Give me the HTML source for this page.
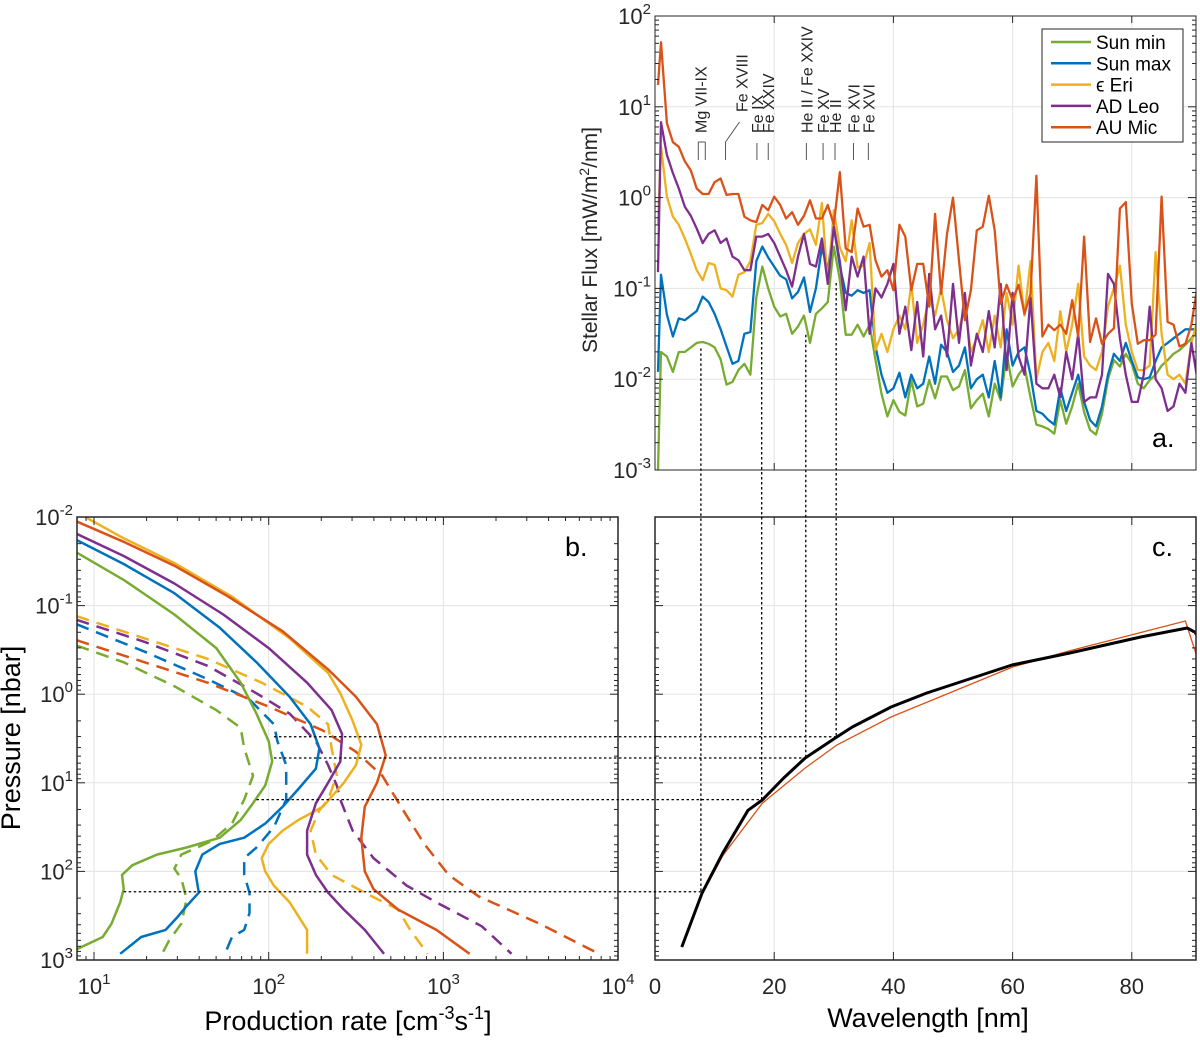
<!DOCTYPE html>
<html><head><meta charset="utf-8"><style>
html,body{margin:0;padding:0;background:#fff;}
svg{display:block;font-family:"Liberation Sans",sans-serif;}
</style></head><body>
<svg id="fig" width="1200" height="1040" viewBox="0 0 1200 1040" xmlns="http://www.w3.org/2000/svg">
<defs>
<clipPath id="clipA"><rect x="655" y="16" width="541" height="454"/></clipPath>
<clipPath id="clipB"><rect x="77" y="517" width="541" height="443"/></clipPath>
<clipPath id="clipC"><rect x="655" y="517" width="541" height="443"/></clipPath>
</defs>
<g id="gridLayer"></g>
<g id="dataLayer"></g>
<g id="axisLayer"></g>
<g id="textLayer"></g>
</svg>
<script>
// ---------- Panel a: stellar spectra (log10 flux, mW/m2/nm) ----------
const wavelengths = [0.5,1,2,3,4,5,6,7,8,9,10,11,12,13,14,15,16,17,18,19,20,21,22,23,24,25,26,27,28,29,30,31,32,33,34,35,36,37,38,39,40,41,42,43,44,45,46,47,48,49,50,51,52,53,54,55,56,57,58,59,60,61,62,63,64,65,66,67,68,69,70,71,72,73,74,75,76,77,78,79,80,81,82,83,84,85,86,87,88,89,90,91];
const sunMinLogFlux = [-3.0,-1.70,-1.75,-1.92,-1.70,-1.70,-1.65,-1.60,-1.59,-1.61,-1.65,-1.78,-2.06,-2.03,-1.90,-1.83,-1.95,-1.10,-0.76,-1.00,-1.20,-1.31,-1.28,-1.50,-1.42,-1.30,-1.60,-1.28,-1.22,-1.15,-0.54,-0.90,-1.51,-1.51,-1.40,-1.53,-1.40,-1.79,-2.16,-2.41,-2.23,-2.36,-2.40,-2.01,-2.30,-2.27,-2.01,-2.21,-1.97,-1.97,-2.12,-2.08,-1.90,-2.32,-2.23,-2.16,-2.41,-2.05,-2.23,-1.72,-2.08,-1.95,-1.86,-2.20,-2.50,-2.52,-2.55,-2.60,-2.23,-2.49,-2.30,-2.05,-2.36,-2.56,-2.61,-2.38,-2.00,-1.79,-1.86,-1.72,-1.83,-2.05,-2.10,-2.01,-1.95,-1.85,-1.79,-1.72,-1.68,-1.62,-1.55,-1.46];
const sunMaxLogFlux = [-1.92,-0.85,-1.29,-1.53,-1.33,-1.35,-1.30,-1.25,-1.09,-1.15,-1.28,-1.45,-1.64,-1.83,-1.80,-1.50,-1.48,-0.70,-0.54,-0.66,-0.76,-0.86,-0.90,-1.11,-1.04,-0.88,-1.26,-1.00,-0.55,-0.80,-0.32,-0.75,-1.05,-1.08,-1.02,-1.05,-1.02,-1.64,-1.95,-2.15,-2.10,-1.93,-2.20,-1.95,-2.10,-2.05,-1.75,-2.05,-1.62,-1.70,-1.92,-1.85,-1.65,-2.10,-2.00,-1.95,-2.20,-1.80,-2.20,-1.45,-1.85,-1.70,-1.65,-1.95,-2.35,-2.38,-2.45,-2.50,-2.10,-2.35,-2.15,-1.95,-2.25,-2.45,-2.52,-2.30,-1.95,-1.72,-1.80,-1.60,-1.80,-1.98,-2.00,-1.98,-1.80,-1.65,-1.60,-1.55,-1.50,-1.45,-1.45,-1.45];
const epsEriLogFlux = [-0.30,0.56,0.01,-0.21,-0.30,-0.45,-0.62,-0.80,-0.91,-0.72,-0.74,-1.00,-1.02,-1.09,-0.85,-0.82,-0.70,-0.30,-0.28,-0.18,-0.26,-0.40,-0.52,-0.72,-0.50,-0.40,-0.35,-0.52,-0.06,-0.95,-0.14,-0.55,-0.70,-0.25,-0.77,-0.75,-0.50,-1.68,-1.50,-1.70,-1.45,-1.30,-1.45,-0.95,-1.60,-1.40,-1.10,-1.30,-1.00,-1.35,-1.55,-1.45,-1.20,-1.70,-1.55,-1.35,-1.70,-1.30,-1.65,-1.05,-1.40,-0.75,-1.30,-0.70,-2.00,-1.70,-1.60,-1.80,-1.25,-1.70,-1.40,-0.95,-1.75,-1.85,-1.90,-1.70,-1.20,-1.00,-0.75,-1.40,-1.70,-1.90,-1.90,-1.85,-0.60,-1.50,-1.95,-2.00,-1.95,-2.05,-1.60,-1.35];
const adLeoLogFlux = [-0.82,0.83,0.47,0.27,0.10,-0.10,-0.20,-0.34,-0.50,-0.40,-0.36,-0.50,-0.45,-0.65,-0.69,-0.80,-0.80,-0.43,-0.43,-0.40,-0.50,-0.65,-0.80,-0.98,-0.65,-0.40,-0.73,-0.76,-0.45,-0.95,-0.32,-0.70,-1.24,-0.65,-0.87,-0.65,-1.50,-1.00,-1.10,-0.95,-0.73,-1.50,-1.20,-1.68,-1.15,-1.75,-0.84,-1.45,-1.30,-1.75,-0.95,-1.60,-1.05,-1.85,-1.50,-1.70,-1.25,-1.65,-0.95,-1.90,-1.05,-1.75,-1.95,-1.10,-2.05,-2.10,-2.10,-1.95,-2.20,-1.70,-2.00,-1.50,-2.25,-2.20,-2.20,-1.95,-0.84,-0.95,-1.55,-1.95,-2.25,-2.25,-1.95,-1.20,-2.00,-2.10,-2.35,-2.30,-2.05,-2.15,-1.60,-2.00];
const auMicLogFlux = [1.24,1.71,0.82,0.61,0.56,0.40,0.30,0.10,0.04,0.04,0.17,0.21,0.03,0.04,0.04,-0.21,-0.25,-0.27,-0.08,-0.14,0.01,-0.08,-0.23,-0.16,-0.30,-0.20,-0.03,-0.23,-0.23,-0.08,-0.30,0.28,-0.56,-0.60,-0.12,-0.32,-0.30,-0.69,-0.87,-0.80,-1.02,-0.30,-0.43,-1.02,-0.73,-0.73,-1.20,-0.18,-1.06,-0.40,0.00,-0.69,-1.35,-1.02,-0.36,-0.32,0.02,-0.36,-1.17,-0.96,-1.13,-0.96,-1.28,-1.06,0.24,-1.53,-1.40,-1.46,-1.40,-1.50,-1.13,-1.53,-0.43,-1.59,-1.33,-1.61,-1.50,-1.44,-0.12,-0.05,-1.17,-1.61,-1.57,-1.57,-1.51,0.01,-1.37,-1.40,-1.64,-1.61,-1.40,-0.98];
const seriesNames = ["Sun min","Sun max","ϵ Eri","AD Leo","AU Mic"];
const seriesColors = ["#77AC30","#0072BD","#EDB120","#7E2F8E","#D95319"];
const fluxTickExps = [-3,-2,-1,0,1,2];
const wlTicks = [0,20,40,60,80];
const lineLabels = ["Mg VII-IX","Fe XVIII","Fe IX","Fe XXIV","He II / Fe XXIV","Fe XV","He II","Fe XVI","Fe XVI"];
const lineWavelengths = [7.6,12.0,17.1,19.0,25.4,28.2,30.2,33.3,35.8];

// ---------- Panel b: production rate profiles [log10 rate, log10 pressure] ----------
const sunMinSolid = [[0.90,-1.60],[1.17,-1.29],[1.46,-0.90],[1.70,-0.52],[1.84,-0.13],[1.93,0.22],[2.00,0.53],[2.02,0.76],[1.98,1.03],[1.91,1.23],[1.84,1.42],[1.72,1.62],[1.53,1.73],[1.36,1.81],[1.22,1.93],[1.16,2.04],[1.17,2.20],[1.15,2.35],[1.10,2.59],[1.05,2.74],[0.90,2.88]];
const sunMaxSolid = [[0.90,-1.74],[1.17,-1.47],[1.46,-1.14],[1.72,-0.75],[1.93,-0.36],[2.12,0.03],[2.24,0.34],[2.29,0.61],[2.27,0.84],[2.17,1.07],[2.08,1.27],[1.98,1.46],[1.86,1.62],[1.72,1.69],[1.62,1.81],[1.58,2.00],[1.60,2.24],[1.53,2.39],[1.48,2.51],[1.41,2.66],[1.27,2.74],[1.15,2.93]];
const epsEriSolid = [[0.95,-2.00],[1.17,-1.76],[1.46,-1.48],[1.79,-1.10],[2.12,-0.63],[2.34,-0.24],[2.41,-0.01],[2.48,0.30],[2.53,0.57],[2.50,0.80],[2.43,1.00],[2.31,1.27],[2.17,1.42],[2.08,1.54],[2.00,1.69],[1.96,1.85],[1.98,2.00],[2.03,2.16],[2.12,2.35],[2.22,2.66],[2.22,2.93]];
const adLeoSolid = [[0.90,-1.81],[1.17,-1.56],[1.46,-1.25],[1.74,-0.90],[2.00,-0.52],[2.22,-0.13],[2.36,0.18],[2.42,0.45],[2.41,0.76],[2.34,1.00],[2.27,1.23],[2.22,1.54],[2.22,1.81],[2.27,2.04],[2.34,2.24],[2.43,2.43],[2.55,2.66],[2.66,2.93]];
const auMicSolid = [[0.90,-1.95],[1.17,-1.72],[1.46,-1.45],[1.77,-1.10],[2.08,-0.71],[2.34,-0.28],[2.50,0.03],[2.62,0.34],[2.67,0.69],[2.62,1.00],[2.55,1.27],[2.53,1.62],[2.55,2.00],[2.60,2.20],[2.74,2.43],[2.96,2.66],[3.15,2.93]];
const sunMinDashed = [[0.90,-0.55],[1.17,-0.36],[1.46,-0.09],[1.70,0.18],[1.84,0.38],[1.86,0.61],[1.91,0.92],[1.86,1.19],[1.79,1.46],[1.67,1.66],[1.50,1.81],[1.46,1.97],[1.50,2.08],[1.53,2.31],[1.50,2.59],[1.43,2.78],[1.39,2.93]];
const sunMaxDashed = [[0.90,-0.79],[1.29,-0.48],[1.65,-0.17],[1.89,0.06],[2.03,0.34],[2.05,0.53],[2.10,0.80],[2.10,1.19],[2.03,1.50],[1.93,1.73],[1.86,1.85],[1.86,2.04],[1.89,2.24],[1.89,2.47],[1.86,2.66],[1.79,2.74],[1.75,2.93]];
const epsEriDashed = [[0.90,-0.88],[1.29,-0.63],[1.65,-0.40],[1.96,-0.13],[2.22,0.14],[2.34,0.34],[2.36,0.61],[2.39,0.92],[2.34,1.19],[2.29,1.31],[2.24,1.54],[2.27,1.81],[2.36,2.04],[2.55,2.24],[2.74,2.43],[2.81,2.66],[2.91,2.93]];
const adLeoDashed = [[0.90,-0.84],[1.29,-0.59],[1.65,-0.32],[1.93,-0.01],[2.12,0.22],[2.27,0.53],[2.34,0.80],[2.39,1.03],[2.41,1.19],[2.48,1.54],[2.60,1.85],[2.79,2.16],[2.96,2.35],[3.22,2.62],[3.39,2.93]];
const auMicDashed = [[0.90,-0.61],[1.29,-0.36],[1.65,-0.13],[2.00,0.14],[2.31,0.41],[2.50,0.65],[2.65,0.92],[2.77,1.31],[2.89,1.69],[3.03,2.04],[3.20,2.28],[3.55,2.59],[3.89,2.93]];
const rateTickExps = [1,2,3,4];
const pressureTickExps = [-2,-1,0,1,2,3];

// ---------- Panel c: penetration depth (wavelength nm, log10 pressure nbar) ----------
const depthWl = [4.5,7.9,11.4,15.6,18.0,21.6,25.2,30.5,33.1,39.6,45.6,59.9,69.6,81.5,89.3,90.6,91.1];
const depthLogP = [2.853,2.244,1.79,1.31,1.194,0.946,0.72,0.483,0.37,0.144,-0.014,-0.33,-0.465,-0.646,-0.747,-0.70,-0.646];
const depthModelWl = [4.5,7.9,11.4,18.0,25.2,30.5,39.6,60.0,69.6,89.0,91.1];
const depthModelLogP = [2.853,2.26,1.82,1.23,0.833,0.573,0.257,-0.307,-0.49,-0.826,-0.386];

// ---------- Link lines ----------
const linkWl = [7.7,17.9,25.3,30.4];
const linkLogP = [2.23,1.19,0.72,0.48];
const linkLogRate = [1.17,1.93,2.03,2.03];
const linkLogFlux = [-1.66,-1.15,-1.51,-0.94];

// ---------- scales ----------
const A = {l:655,r:1196,t:16,b:470};
const B = {l:77,r:618,t:517,b:960};
const C = {l:655,r:1196,t:517,b:960};
function wlX(w){return 655 + w*5.96;}
function fluxY(lf){return 16 + (2-lf)*90.8;}
function rateX(lr){return 94 + (lr-1)*174.7;}
function presY(lp){return 517 + (lp+2)*88.6;}

const NS="http://www.w3.org/2000/svg";
const grid=document.getElementById('gridLayer');
const dataL=document.getElementById('dataLayer');
const axisL=document.getElementById('axisLayer');
const textL=document.getElementById('textLayer');
function mk(tag,attrs,parent){const e=document.createElementNS(NS,tag);for(const k in attrs)e.setAttribute(k,attrs[k]);parent.appendChild(e);return e;}
function line(x1,y1,x2,y2,st,sw,parent,dash){const e=mk('line',{x1:x1,y1:y1,x2:x2,y2:y2,stroke:st,'stroke-width':sw},parent);if(dash)e.setAttribute('stroke-dasharray',dash);return e;}
function supLabel(x,y,base,exp,parent,anchor){
  const t=mk('text',{x:x,y:y,'font-size':22,'text-anchor':anchor||'middle',fill:'#262626'},parent);
  const s1=document.createElementNS(NS,'tspan');s1.textContent=base;t.appendChild(s1);
  const s2=document.createElementNS(NS,'tspan');s2.setAttribute('dy','-10');s2.setAttribute('font-size','15');s2.textContent=exp;t.appendChild(s2);
  return t;
}
const GRID='#e3e3e3', AX='#262626';

// ===== Panel a =====
wlTicks.forEach(w=>{ if(w>0) line(wlX(w),A.t,wlX(w),A.b,GRID,1,grid);
  line(wlX(w),A.b,wlX(w),A.b-7,AX,1,axisL); line(wlX(w),A.t,wlX(w),A.t+7,AX,1,axisL);});
fluxTickExps.forEach(e=>{const y=fluxY(e);
  if(e>-3&&e<2) line(A.l,y,A.r,y,GRID,1,grid);
  line(A.l,y,A.l+8,y,AX,1,axisL); line(A.r,y,A.r-8,y,AX,1,axisL);
  const lab=supLabel(A.l-4,y+8,'10',String(e),textL,'end');
  
  
  if(e<2){for(let m=2;m<10;m++){const yy=fluxY(e+Math.log10(m));line(A.l,yy,A.l+4,yy,AX,1,axisL);line(A.r,yy,A.r-4,yy,AX,1,axisL);}}
});
const aSeries=[sunMinLogFlux,sunMaxLogFlux,epsEriLogFlux,adLeoLogFlux,auMicLogFlux];
const aG=mk('g',{'clip-path':'url(#clipA)'},dataL);
aSeries.forEach((arr,i)=>{
  const pts=arr.map((v,j)=>wlX(wavelengths[j]).toFixed(1)+','+fluxY(v).toFixed(1)).join(' ');
  const p=mk('polyline',{points:pts,fill:'none',stroke:seriesColors[i],'stroke-width':2.3,'stroke-linejoin':'round'},aG);
  
  
});
mk('rect',{x:A.l,y:A.t,width:A.r-A.l,height:A.b-A.t,fill:'none',stroke:AX,'stroke-width':1},axisL);
const yla=mk('text',{x:0,y:0,'font-size':21,'text-anchor':'middle',fill:'#262626',transform:'translate(597,240) rotate(-90)'},textL);


yla.innerHTML='Stellar Flux [mW/m<tspan dy="-8" font-size="14">2</tspan><tspan dy="8">/nm]</tspan>';
lineLabels.forEach((lab,i)=>{
  const x=wlX(lineWavelengths[i]);
  const lx = i===1 ? x+15 : x;
  const ly = i===1 ? 112 : 133;
  const t=mk('text',{x:0,y:0,'font-size':16,fill:'#262626',transform:'translate('+(lx+6)+','+ly+') rotate(-90)'},textL);
  
  
  t.textContent=lab;
  if(i===0){line(x-2,142,x-2,160,'#555',1,axisL);line(x+5,142,x+5,160,'#555',1,axisL);line(x-2,142,x+5,142,'#555',1,axisL);}
  else if(i===1){line(x-1,142,x-1,160,'#555',1,axisL);line(x-1,142,x+13,122,'#555',1,axisL);}
  else line(x,143,x,160,'#555',1,axisL);
});
const lg=mk('g',{},textL);


mk('rect',{x:1042,y:29,width:141,height:113,fill:'#fff',stroke:AX,'stroke-width':1},lg);
seriesNames.forEach((n,i)=>{const y=42+i*21.3;
  line(1051,y,1091,y,seriesColors[i],2.5,lg);
  const t=mk('text',{x:1096,y:y+7,'font-size':19,fill:'#000'},lg);
  
  
  t.textContent=n;});
const ta=mk('text',{x:1152,y:447,'font-size':27,fill:'#000'},textL);ta.textContent='a.';


// ===== Panel b =====
rateTickExps.forEach(e=>{const x=rateX(e);
  if(e<4) line(x,B.t,x,B.b,GRID,1,grid);
  line(x,B.b,x,B.b-8,AX,1,axisL);line(x,B.t,x,B.t+8,AX,1,axisL);
  const lab=supLabel(x,B.b+34,'10',String(e),textL);
  
  
  for(let m=1;m<10;m++){const xx=rateX(e-1+Math.log10(m));if(m>1&&xx>B.l){line(xx,B.b,xx,B.b-4,AX,1,axisL);line(xx,B.t,xx,B.t+4,AX,1,axisL);}}
});
pressureTickExps.forEach(e=>{const y=presY(e);
  if(e>-2&&e<3){line(B.l,y,B.r,y,GRID,1,grid);line(C.l,y,C.r,y,GRID,1,grid);}
  [B,C].forEach(P=>{line(P.l,y,P.l+8,y,AX,1,axisL);line(P.r,y,P.r-8,y,AX,1,axisL);
    if(e<3)for(let m=2;m<10;m++){const yy=presY(e+Math.log10(m));line(P.l,yy,P.l+4,yy,AX,1,axisL);line(P.r,yy,P.r-4,yy,AX,1,axisL);}});
  const lab=supLabel(B.l-4,y+8,'10',String(e),textL,'end');
  
  
});
const bG=mk('g',{'clip-path':'url(#clipB)'},dataL);
const solid=[sunMinSolid,sunMaxSolid,epsEriSolid,adLeoSolid,auMicSolid];
const dashed=[sunMinDashed,sunMaxDashed,epsEriDashed,adLeoDashed,auMicDashed];
function drawProfile(arr,i,dash){
  const pts=arr.map(p=>rateX(p[0]).toFixed(1)+','+presY(p[1]).toFixed(1)).join(' ');
  const e=mk('polyline',{points:pts,fill:'none',stroke:seriesColors[i],'stroke-width':2.5,'stroke-linejoin':'round'},bG);
  if(dash)e.setAttribute('stroke-dasharray','13 8');
  
  
}
dashed.forEach((a,i)=>drawProfile(a,i,true));
solid.forEach((a,i)=>drawProfile(a,i,false));
mk('rect',{x:B.l,y:B.t,width:B.r-B.l,height:B.b-B.t,fill:'none',stroke:AX,'stroke-width':1.5},axisL);
const xlb=mk('text',{x:348,y:1030,'font-size':27,'text-anchor':'middle',fill:'#000'},textL);

xlb.innerHTML='Production rate [cm<tspan dy="-11" font-size="18">-3</tspan><tspan dy="11">s</tspan><tspan dy="-11" font-size="18">-1</tspan><tspan dy="11">]</tspan>';
const ylb=mk('text',{x:0,y:0,'font-size':27,'text-anchor':'middle',fill:'#000',transform:'translate(20,738) rotate(-90)'},textL);
ylb.textContent='Pressure [nbar]';
const tb=mk('text',{x:565,y:556,'font-size':27,fill:'#000'},textL);tb.textContent='b.';


// ===== Panel c =====
wlTicks.forEach(w=>{const x=wlX(w);
  if(w>0) line(x,C.t,x,C.b,GRID,1,grid);
  line(x,C.b,x,C.b-8,AX,1,axisL);line(x,C.t,x,C.t+8,AX,1,axisL);
  const t=mk('text',{x:x,y:C.b+34,'font-size':22,'text-anchor':'middle',fill:'#262626'},textL);
  
  t.textContent=w;});
const cG=mk('g',{'clip-path':'url(#clipC)'},dataL);
const cm=mk('polyline',{points:depthModelWl.map((w,j)=>wlX(w).toFixed(1)+','+presY(depthModelLogP[j]).toFixed(1)).join(' '),fill:'none',stroke:'#D95319','stroke-width':1.3},cG);

const cb=mk('polyline',{points:depthWl.map((w,j)=>wlX(w).toFixed(1)+','+presY(depthLogP[j]).toFixed(1)).join(' '),fill:'none',stroke:'#000','stroke-width':3,'stroke-linejoin':'round'},cG);

mk('rect',{x:C.l,y:C.t,width:C.r-C.l,height:C.b-C.t,fill:'none',stroke:AX,'stroke-width':1.5},axisL);
const xlc=mk('text',{x:928,y:1027,'font-size':27,'text-anchor':'middle',fill:'#000'},textL);
xlc.textContent='Wavelength [nm]';
const tc=mk('text',{x:1152,y:556,'font-size':27,fill:'#000'},textL);tc.textContent='c.';


// ===== link lines =====
linkWl.forEach((w,i)=>{
  const x=wlX(w), y=presY(linkLogP[i]);
  const h=line(rateX(linkLogRate[i]),y,x,y,'#000',1.3,textL,'2.5 2.5');
  
  const v=line(x,fluxY(linkLogFlux[i]),x,y,'#000',1.3,textL,'2.5 2.5');
  
});
</script>
</body></html>
